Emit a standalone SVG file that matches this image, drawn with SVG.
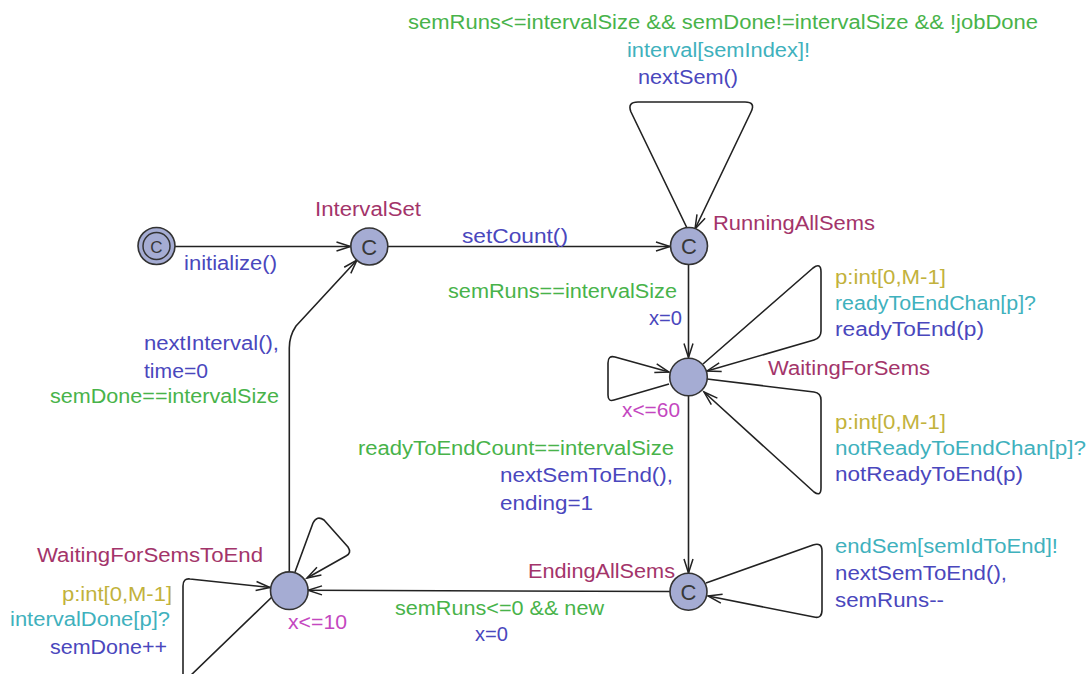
<svg xmlns="http://www.w3.org/2000/svg" width="1089" height="674" viewBox="0 0 1089 674">
<style>
text{font-family:"Liberation Sans",Arial,sans-serif;font-size:20px}
.nm{fill:#a3346a}
.gd{fill:#48b34a}
.sy{fill:#3fb1bd}
.up{fill:#4a47bd}
.se{fill:#c2b23c}
.iv{fill:#c447c0}
.loc{fill:#a5acd3;stroke:#333;stroke-width:1.6}
.cc{fill:#383838;font-size:22px;text-anchor:middle}
.e{fill:none;stroke:#222;stroke-width:1.6;stroke-linejoin:round}
</style>
<defs>
<marker id="ah" markerUnits="userSpaceOnUse" markerWidth="30" markerHeight="30" refX="0" refY="0" orient="auto" viewBox="-20 -10 30 20" overflow="visible">
<path d="M-14,-4.5 L0,0 L-14,4.5" fill="none" stroke="#222" stroke-width="1.5"/>
</marker>
</defs>
<rect width="1089" height="674" fill="#fff"/>
<g id="connectors">
<path class="e" d="M175,246.5 L350.5,246.5" marker-end="url(#ah)"/>
<path class="e" d="M387.5,246.5 L670,246.5" marker-end="url(#ah)"/>
<path class="e" d="M687,228 L631,112 Q627,102 638,102 L745,102 Q756,102 751,112 L695,229" marker-end="url(#ah)"/>
<path class="e" d="M688.5,265 L688.5,357.5" marker-end="url(#ah)"/>
<path class="e" d="M669,384 L614,400 Q608,402 608,395 L608,363 Q608,355 615,357 L669,372" marker-end="url(#ah)"/>
<path class="e" d="M703,364 L813,268 Q821,262 821,272 L821,331 Q821,338 814,340 L707,371" marker-end="url(#ah)"/>
<path class="e" d="M707,379 L814,392 Q821,393 821,400 L821,488 Q821,497 814,492 L704,392" marker-end="url(#ah)"/>
<path class="e" d="M688.5,396 L688.5,573" marker-end="url(#ah)"/>
<path class="e" d="M706,583 L813,545 Q822,542 822,551 L822,610 Q822,619 814,617 L708,596" marker-end="url(#ah)"/>
<path class="e" d="M670,591.5 L308,590.3" marker-end="url(#ah)"/>
<path class="e" d="M295,572 L313,523 Q317,515 324,520 L348,547 Q352,553 346,556 L307,578" marker-end="url(#ah)"/>
<path class="e" d="M273,596 L188,678 Q183,684 183,676 L183,586 Q183,578 190,579 L270,587.5" marker-end="url(#ah)"/>
<path class="e" d="M289.3,572 L289.3,348 Q289.3,336 296,326 L357,260" marker-end="url(#ah)"/>
</g>
<g id="init">
<circle class="loc" cx="156.5" cy="246" r="18.5"/>
<circle cx="156.5" cy="246" r="13.5" fill="none" stroke="#333" stroke-width="1.5"/>
<text class="cc" x="156.5" y="252.5" style="font-size:17px">C</text>
</g>
<g id="IntervalSet">
<circle class="loc" cx="369.3" cy="246.5" r="18.5"/>
<text class="cc" x="369.3" y="254.5">C</text>
<text class="nm" x="315" y="216" textLength="106" lengthAdjust="spacingAndGlyphs">IntervalSet</text>
</g>
<g id="RunningAllSems">
<circle class="loc" cx="689" cy="246" r="18.5"/>
<text class="cc" x="689" y="254">C</text>
<text class="nm" x="713" y="230" textLength="162" lengthAdjust="spacingAndGlyphs">RunningAllSems</text>
</g>
<g id="WaitingForSems">
<circle class="loc" cx="688.5" cy="377" r="18.8"/>
<text class="nm" x="768" y="375" textLength="162" lengthAdjust="spacingAndGlyphs">WaitingForSems</text>
<text class="iv" x="622" y="417" textLength="58" lengthAdjust="spacingAndGlyphs">x&lt;=60</text>
</g>
<g id="EndingAllSems">
<circle class="loc" cx="688.5" cy="591.7" r="18.5"/>
<text class="cc" x="688.5" y="599.5">C</text>
<text class="nm" x="528" y="578" textLength="147" lengthAdjust="spacingAndGlyphs">EndingAllSems</text>
</g>
<g id="WaitingForSemsToEnd">
<circle class="loc" cx="289.3" cy="590.7" r="18.8"/>
<text class="nm" x="37" y="562" textLength="226" lengthAdjust="spacingAndGlyphs">WaitingForSemsToEnd</text>
<text class="iv" x="288" y="629" textLength="59" lengthAdjust="spacingAndGlyphs">x&lt;=10</text>
</g>
<g id="labels">
<text class="gd" x="408" y="29" textLength="630" lengthAdjust="spacingAndGlyphs">semRuns&lt;=intervalSize &amp;&amp; semDone!=intervalSize &amp;&amp; !jobDone</text>
<text class="sy" x="627" y="57" textLength="183" lengthAdjust="spacingAndGlyphs">interval[semIndex]!</text>
<text class="up" x="638" y="84" textLength="100" lengthAdjust="spacingAndGlyphs">nextSem()</text>
<text class="up" x="184" y="270" textLength="93" lengthAdjust="spacingAndGlyphs">initialize()</text>
<text class="up" x="462" y="243" textLength="106" lengthAdjust="spacingAndGlyphs">setCount()</text>
<text class="gd" x="448" y="298" textLength="229" lengthAdjust="spacingAndGlyphs">semRuns==intervalSize</text>
<text class="up" x="649" y="325" textLength="33" lengthAdjust="spacingAndGlyphs">x=0</text>
<text class="se" x="835" y="284" textLength="111" lengthAdjust="spacingAndGlyphs">p:int[0,M-1]</text>
<text class="sy" x="835" y="310" textLength="201" lengthAdjust="spacingAndGlyphs">readyToEndChan[p]?</text>
<text class="up" x="835" y="336" textLength="149" lengthAdjust="spacingAndGlyphs">readyToEnd(p)</text>
<text class="se" x="835" y="429" textLength="111" lengthAdjust="spacingAndGlyphs">p:int[0,M-1]</text>
<text class="sy" x="835" y="455" textLength="251" lengthAdjust="spacingAndGlyphs">notReadyToEndChan[p]?</text>
<text class="up" x="835" y="481" textLength="188" lengthAdjust="spacingAndGlyphs">notReadyToEnd(p)</text>
<text class="gd" x="358" y="455" textLength="316" lengthAdjust="spacingAndGlyphs">readyToEndCount==intervalSize</text>
<text class="up" x="500" y="482" textLength="173" lengthAdjust="spacingAndGlyphs">nextSemToEnd(),</text>
<text class="up" x="500" y="510" textLength="93" lengthAdjust="spacingAndGlyphs">ending=1</text>
<text class="up" x="144" y="350" textLength="135" lengthAdjust="spacingAndGlyphs">nextInterval(),</text>
<text class="up" x="144" y="378" textLength="64" lengthAdjust="spacingAndGlyphs">time=0</text>
<text class="gd" x="50" y="403" textLength="229" lengthAdjust="spacingAndGlyphs">semDone==intervalSize</text>
<text class="se" x="62" y="601" textLength="110" lengthAdjust="spacingAndGlyphs">p:int[0,M-1]</text>
<text class="sy" x="10" y="626" textLength="160" lengthAdjust="spacingAndGlyphs">intervalDone[p]?</text>
<text class="up" x="50" y="654" textLength="117" lengthAdjust="spacingAndGlyphs">semDone++</text>
<text class="gd" x="395" y="615" textLength="209" lengthAdjust="spacingAndGlyphs">semRuns&lt;=0 &amp;&amp; new</text>
<text class="up" x="475" y="641" textLength="33" lengthAdjust="spacingAndGlyphs">x=0</text>
<text class="sy" x="835" y="553" textLength="223" lengthAdjust="spacingAndGlyphs">endSem[semIdToEnd]!</text>
<text class="up" x="835" y="580" textLength="172" lengthAdjust="spacingAndGlyphs">nextSemToEnd(),</text>
<text class="up" x="835" y="607" textLength="109" lengthAdjust="spacingAndGlyphs">semRuns--</text>
</g>
</svg>
